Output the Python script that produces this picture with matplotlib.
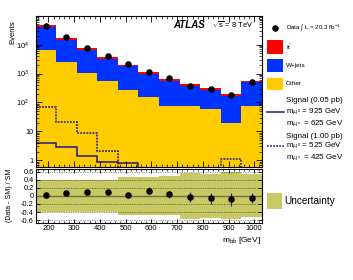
import numpy as np
import matplotlib
matplotlib.use('Agg')
import matplotlib.pyplot as plt
from matplotlib.patches import Rectangle
from matplotlib.lines import Line2D
from matplotlib.ticker import FixedLocator, MultipleLocator, LogLocator, NullFormatter

plt.rcParams['font.family'] = ['Liberation Sans', 'DejaVu Sans']
plt.rcParams['mathtext.fontset'] = 'custom'
plt.rcParams['mathtext.rm'] = 'Liberation Sans'
plt.rcParams['mathtext.it'] = 'Liberation Sans:italic'
plt.rcParams['mathtext.bf'] = 'Liberation Sans:bold'

# bin edges in m_bb [GeV]
edges = [150, 230, 310, 390, 470, 550, 630, 710, 790, 870, 950, 1030]

# stacked backgrounds (events per bin)
other = [6600, 2450, 1080, 570, 275, 152, 77, 73, 60, 19, 73]
wjets = [32900, 12050, 5280, 2540, 1510, 825, 483, 292, 214, 146, 428]
ttbar = [6800, 2500, 1090, 540, 260, 133, 75, 77, 47, 24, 73]

# data
data = [45000, 17800, 7900, 4070, 2150, 1170, 690, 385, 288, 174, 500]

# signals
sig_a = [4.1, 2.97, 1.4, 0.87, 0.83, 0, 0, 0, 0, 0, 0]    # 0.05 pb, 925/625
sig_b = [69, 21, 8.7, 2.04, 0, 0, 0, 0, 0, 1.15, 0]       # 1.00 pb, 525/425

# ratio panel
ratio = [0.03, 0.06, 0.09, 0.10, 0.01, 0.13, 0.04, -0.02, -0.06, -0.09, -0.05]
ratio_err = [0.02, 0.02, 0.03, 0.03, 0.04, 0.08, 0.09, 0.12, 0.13, 0.16, 0.12]
unc = [0.40, 0.40, 0.40, 0.40, 0.47, 0.47, 0.48, 0.57, 0.54, 0.58, 0.53]

W, H = 353, 280
def fx(x):
    return x / W
def fy(y):
    return 1 - y / H

edges = np.array(edges, dtype=float)
centers = 0.5 * (edges[1:] + edges[:-1])
other = np.array(other, dtype=float)
wjets = np.array(wjets, dtype=float)
ttbar = np.array(ttbar, dtype=float)

c_red = '#ff0000'
c_blue = '#0033ff'
c_yel = '#ffcc00'
c_unc = '#c8c864'
c_sig = '#1a1a8c'

fig = plt.figure(figsize=(3.53, 2.80), dpi=100)
ax = fig.add_axes([fx(35.5), fy(166.7), (262 - 35.5) / W, (166.7 - 15.7) / H])
axr = fig.add_axes([fx(35.5), fy(223), (262 - 35.5) / W, (223 - 168.7) / H])

floor = 1e-3
ax.stairs(other + wjets + ttbar, edges, baseline=floor, fill=True, color=c_red, lw=0)
ax.stairs(other + wjets, edges, baseline=floor, fill=True, color=c_blue, lw=0)
ax.stairs(other, edges, baseline=floor, fill=True, color=c_yel, lw=0)

sa = np.where(np.array(sig_a) > 0, sig_a, floor)
sb = np.where(np.array(sig_b) > 0, sig_b, floor)
ax.stairs(sa, edges, baseline=None, color=c_sig, lw=1.1)
ax.stairs(sb, edges, baseline=None, color=c_sig, lw=1.1, linestyle=(0, (1.2, 0.8)))

ax.plot(centers, data, 'o', color='k', ms=3.7, zorder=5)

ax.set_yscale('log')
ax.set_xlim(edges[0], edges[-1])
ax.set_ylim(0.6, 1e5)
ax.yaxis.set_major_locator(FixedLocator([1, 10, 100, 1000, 10000]))
ax.set_yticklabels(['1', '10', r'$10^{2}$   ', r'$10^{3}$   ', r'$10^{4}$   '])
ax.yaxis.set_minor_locator(LogLocator(base=10, subs=np.arange(2, 10)))
ax.yaxis.set_minor_formatter(NullFormatter())
ax.xaxis.set_major_locator(MultipleLocator(100))
ax.xaxis.set_minor_locator(MultipleLocator(20))
ax.set_xticklabels([])
ax.tick_params(which='both', direction='in', top=True, right=True, labelsize=5.3, pad=1.5)
ax.tick_params(which='major', length=4, width=0.6)
ax.tick_params(which='minor', length=2, width=0.5)
for s in ax.spines.values():
    s.set_linewidth(0.8)
    s.set_zorder(6)

# ratio panel
axr.stairs(np.array(unc), edges, baseline=-np.array(unc), fill=True, color=c_unc, lw=0)
for yv in [-0.6, -0.4, -0.2, 0.2, 0.4, 0.6]:
    axr.axhline(yv, color='k', lw=0.5, linestyle=(0, (1, 1.5)), alpha=0.8)
axr.axhline(0, color='#6f6f45', lw=1.0)
axr.errorbar(centers, ratio, yerr=ratio_err, fmt='o', color='k', ms=3.7,
             ecolor=c_sig, elinewidth=0.8, capsize=0, zorder=5)
axr.set_xlim(edges[0], edges[-1])
axr.set_ylim(-0.67, 0.67)
axr.yaxis.set_major_locator(FixedLocator([-0.6, -0.4, -0.2, 0, 0.2, 0.4, 0.6]))
axr.set_yticklabels(['-0.6', '-0.4', '-0.2', '0', '0.2', '0.4', '0.6'])
axr.xaxis.set_major_locator(MultipleLocator(100))
axr.xaxis.set_minor_locator(MultipleLocator(20))
axr.set_xticks([200, 300, 400, 500, 600, 700, 800, 900, 1000])
axr.tick_params(which='both', direction='in', top=True, right=True, labelsize=5.5, pad=1.2)
axr.tick_params(axis='y', labelsize=5.3)
axr.tick_params(which='major', length=3, width=0.6)
axr.tick_params(which='minor', length=1.5, width=0.5)
for s in axr.spines.values():
    s.set_linewidth(0.8)

# axis titles
fig.text(fx(12.7), fy(32), 'Events', rotation=90, ha='center', va='center', fontsize=5.5)
fig.text(fx(10), fy(195), '(Data - SM) / SM', rotation=90, ha='center', va='center', fontsize=5)
fig.text(fx(261), fy(241), r'm$_{\mathrm{b\bar{b}}}$ [GeV]', ha='right', va='center', fontsize=6)

# ATLAS label
fig.text(fx(173), fy(25), 'ATLAS', fontsize=7, fontweight='bold', fontstyle='italic',
         ha='left', va='center')
fig.text(fx(212), fy(25), r'$\sqrt{\mathrm{s}}$ = 8 TeV', fontsize=5.4, ha='left', va='center')

# legend (outside, right)
fig.add_artist(Line2D([fx(275)], [fy(28)], marker='o', ms=3.7, color='k',
                      transform=fig.transFigure))
fig.text(fx(286), fy(28), r'Data $\int$ L = 20.3 fb$^{-1}$', fontsize=4.5, ha='left', va='center')

for (y0, y1, col, lab) in [(40, 54, c_red, r't$\bar{\mathrm{t}}$'),
                           (59, 72, c_blue, 'W+jets'),
                           (77.5, 89.5, c_yel, 'Other')]:
    fig.add_artist(Rectangle((fx(267), fy(y1)), 15.5 / W, (y1 - y0) / H,
                             transform=fig.transFigure, color=col, lw=0))
    fig.text(fx(286), fy(0.5 * (y0 + y1)), lab, fontsize=4.6, ha='left', va='center')

fs = 5.8
fig.text(fx(285.7), fy(100), 'Signal (0.05 pb)', fontsize=fs, ha='left', va='center')
fig.add_artist(Line2D([fx(267), fx(284)], [fy(112), fy(112)], color=c_sig, lw=1.1,
                      transform=fig.transFigure))
fig.text(fx(285.7), fy(112), r'm$_{H^0}$ = 925 GeV', fontsize=fs, ha='left', va='center')
fig.text(fx(285.7), fy(124), r'm$_{H^\pm}$ = 625 GeV', fontsize=fs, ha='left', va='center')
fig.text(fx(285.7), fy(136), 'Signal (1.00 pb)', fontsize=fs, ha='left', va='center')
fig.add_artist(Line2D([fx(267), fx(284)], [fy(146), fy(146)], color=c_sig, lw=1.1,
                      linestyle=(0, (1.2, 0.8)), transform=fig.transFigure))
fig.text(fx(285.7), fy(146), r'm$_{H^0}$ = 525 GeV', fontsize=fs, ha='left', va='center')
fig.text(fx(285.7), fy(158), r'm$_{H^\pm}$ = 425 GeV', fontsize=fs, ha='left', va='center')

fig.add_artist(Rectangle((fx(267), fy(209.3)), 14.5 / W, 16.6 / H,
                         transform=fig.transFigure, color=c_unc, lw=0))
fig.text(fx(284), fy(201), 'Uncertainty', fontsize=7.2, ha='left', va='center')

fig.savefig('out.png', dpi=100)
